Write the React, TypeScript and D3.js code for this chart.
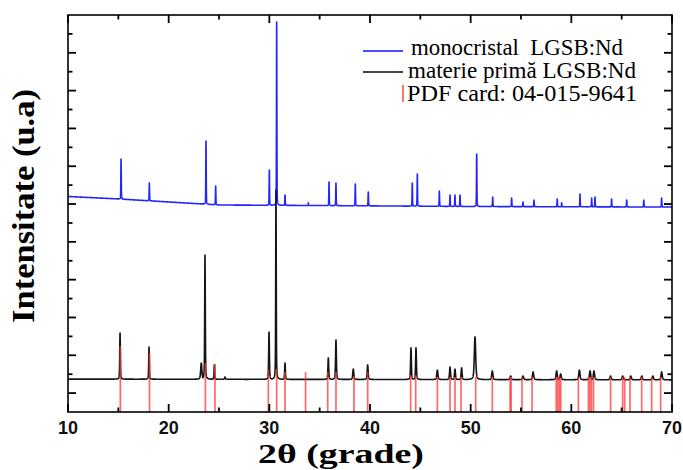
import React from "react";
import * as d3 from "d3";

// ---- axis ticks ----
const xTickLabels = [10, 20, 30, 40, 50, 60, 70];
const xMinorTicks = [15, 25, 35, 45, 55, 65];
const yMajorTicks = [0, 2, 4, 6, 8, 10, 12, 14, 16, 18];
const yMinorTicks = [1, 3, 5, 7, 9, 11, 13, 15, 17, 19];

// ---- monocristal LGSB:Nd (blue) ----
const blueBaseX = [10, 15, 20, 25, 35, 50, 70];
const blueBaseY = [10.4, 10.27, 10.11, 9.95, 9.92, 9.87, 9.84];
const bluePeakX = [15.27, 18.08, 23.71, 24.67, 30.0, 30.73, 31.56, 33.87, 35.93, 36.62, 38.54, 39.83, 44.2, 44.7, 46.89, 47.95, 48.44, 48.94, 50.6, 52.19, 54.07, 55.2, 56.29, 58.6, 59.04, 60.86, 62.02, 62.35, 64.0, 65.5, 67.2, 68.97];
const bluePeakY = [12.38, 11.11, 13.33, 10.95, 11.8, 19.63, 10.48, 10.06, 11.17, 11.11, 11.06, 10.64, 11.11, 11.59, 10.69, 10.48, 10.48, 10.48, 12.65, 10.37, 10.32, 10.11, 10.21, 10.27, 10.06, 10.53, 10.32, 10.37, 10.27, 10.21, 10.21, 10.32];

// ---- materie primă LGSB:Nd (black) ----
const blackBaseX = [10, 40, 70];
const blackBaseY = [0.74, 0.72, 0.7];
const blackPeakX = [15.17, 18.05, 23.24, 23.61, 24.54, 25.6, 29.97, 30.66, 31.56, 35.86, 36.62, 38.34, 39.77, 44.07, 44.57, 46.69, 47.95, 48.44, 49.1, 50.43, 52.15, 53.97, 55.2, 56.2, 58.54, 58.94, 60.8, 61.86, 62.25, 63.9, 65.1, 65.9, 67.0, 68.1, 68.97];
const blackPeakY = [3.18, 2.44, 1.59, 7.3, 1.49, 0.85, 3.23, 10.74, 1.59, 1.86, 2.81, 1.27, 1.49, 2.39, 2.39, 1.22, 1.38, 1.27, 1.33, 2.97, 1.17, 0.9, 0.9, 1.12, 1.17, 1.01, 1.22, 1.17, 1.17, 0.9, 0.9, 0.9, 0.9, 0.9, 1.12];
const blackPeakFwhm = [0.07, 0.07, 0.14, 0.07, 0.07, 0.1, 0.08, 0.06, 0.08, 0.09, 0.09, 0.12, 0.11, 0.09, 0.09, 0.13, 0.11, 0.11, 0.11, 0.16, 0.14, 0.14, 0.14, 0.14, 0.14, 0.14, 0.14, 0.14, 0.14, 0.14, 0.14, 0.14, 0.14, 0.14, 0.14];

// ---- PDF card 04-015-9641 (red sticks) ----
const pdfX = [15.2, 18.1, 23.65, 24.6, 29.9, 30.73, 31.56, 33.6, 35.8, 36.62, 38.41, 39.77, 44.04, 44.54, 46.69, 47.95, 48.44, 49.04, 50.5, 52.15, 53.92, 54.02, 55.1, 56.1, 58.5, 58.65, 58.8, 58.95, 60.7, 61.7, 61.85, 62.0, 62.2, 63.9, 65.1, 65.3, 65.83, 66.99, 67.98, 68.87];
const pdfY = [2.49, 2.12, 1.59, 1.54, 1.27, 1.27, 1.12, 1.12, 1.12, 1.12, 0.9, 1.12, 0.95, 0.95, 0.85, 0.85, 0.85, 0.85, 0.85, 0.85, 0.85, 0.85, 0.85, 0.85, 0.85, 0.85, 0.85, 0.85, 0.85, 0.85, 0.85, 0.85, 0.85, 0.85, 0.85, 0.85, 0.85, 0.85, 0.85, 0.85];

const legendLabels = ["monocristal  LGSB:Nd", "materie primă LGSB:Nd", "PDF card: 04-015-9641"];

const W = 683, H = 470;
const M = { left: 68, right: 672, top: 15, bottom: 412 };

function pv(dx: number, fwhm: number, eta: number) {
  const hw = fwhm / 2;
  const r = (dx / hw) * (dx / hw);
  return eta / (1 + r) + (1 - eta) * Math.exp(-Math.LN2 * r);
}

function buildCurve(baseX: number[], baseY: number[], px: number[], py: number[], fw: number[] | number, eta: number) {
  const base = d3.scaleLinear().domain(baseX).range(baseY);
  const xs = d3.range(10, 70.0001, 0.005).concat(px).sort((a, b) => a - b);
  return xs.map((x) => {
    const b = base(x);
    let y = b;
    for (let i = 0; i < px.length; i++) {
      const f = Array.isArray(fw) ? fw[i] : fw;
      const dx = x - px[i];
      if (Math.abs(dx) > 2) continue;
      const h = py[i] - base(px[i]);
      const v = b + h * pv(dx, f, eta);
      if (v > y) y = v;
    }
    return [x, y] as [number, number];
  });
}

export default function App() {
  const x = d3.scaleLinear().domain([10, 70]).range([M.left, M.right]);
  const y = d3.scaleLinear().domain([-1, 20]).range([M.bottom, M.top]);
  const line = d3.line<[number, number]>().x((d) => x(d[0])).y((d) => y(d[1]));

  const blue = buildCurve(blueBaseX, blueBaseY, bluePeakX, bluePeakY, 0.045, 0.35);
  const black = buildCurve(blackBaseX, blackBaseY, blackPeakX, blackPeakY, blackPeakFwhm, 0.45);

  const serif = "'Liberation Serif', 'Times New Roman', serif";
  const sans = "'Liberation Sans', Arial, sans-serif";

  return (
    <svg width={W} height={H} style={{ position: "absolute", left: 0, top: 0, background: "#fff" }}>
      <rect x={0} y={0} width={W} height={H} fill="#fff" />
      {/* curves */}
      <path d={line(blue) || ""} fill="none" stroke="#2424ff" strokeWidth={1.6} strokeLinejoin="round" />
      <path d={line(black) || ""} fill="none" stroke="#151515" strokeWidth={1.6} strokeLinejoin="round" />
      {/* PDF sticks */}
      {pdfX.map((v, i) => (
        <line key={"p" + i} x1={x(v)} x2={x(v)} y1={y(-1)} y2={y(pdfY[i])} stroke="#ff3535" strokeOpacity={0.75} strokeWidth={1.7} />
      ))}
      {/* frame */}
      <rect x={M.left} y={M.top} width={M.right - M.left} height={M.bottom - M.top} fill="none" stroke="#000" strokeWidth={1.6} />
      {/* x ticks */}
      {xTickLabels.map((v) => (
        <g key={"xt" + v}>
          <line x1={x(v)} x2={x(v)} y1={M.bottom} y2={M.bottom - 8} stroke="#000" strokeWidth={1.8} />
          <line x1={x(v)} x2={x(v)} y1={M.top} y2={M.top + 8} stroke="#000" strokeWidth={1.8} />
          <text x={x(v)} y={434} textAnchor="middle" fontFamily={sans} fontWeight="bold" fontSize={18} fill="#111">{v}</text>
        </g>
      ))}
      {xMinorTicks.map((v) => (
        <g key={"xm" + v}>
          <line x1={x(v)} x2={x(v)} y1={M.bottom} y2={M.bottom - 4.5} stroke="#000" strokeWidth={1.8} />
          <line x1={x(v)} x2={x(v)} y1={M.top} y2={M.top + 4.5} stroke="#000" strokeWidth={1.8} />
        </g>
      ))}
      {/* y ticks */}
      {yMajorTicks.map((v) => (
        <g key={"ym" + v}>
          <line x1={M.left} x2={M.left + 8} y1={y(v)} y2={y(v)} stroke="#000" strokeWidth={1.8} />
          <line x1={M.right} x2={M.right - 8} y1={y(v)} y2={y(v)} stroke="#000" strokeWidth={1.8} />
        </g>
      ))}
      {yMinorTicks.map((v) => (
        <g key={"yn" + v}>
          <line x1={M.left} x2={M.left + 4.5} y1={y(v)} y2={y(v)} stroke="#000" strokeWidth={1.8} />
          <line x1={M.right} x2={M.right - 4.5} y1={y(v)} y2={y(v)} stroke="#000" strokeWidth={1.8} />
        </g>
      ))}
      {/* axis titles */}
      <text x={341} y={463} textAnchor="middle" fontFamily={serif} fontWeight="bold" fontSize={28} textLength={166} lengthAdjust="spacingAndGlyphs" fill="#000">2θ (grade)</text>
      <text transform="translate(34,206) rotate(-90)" textAnchor="middle" fontFamily={serif} fontWeight="bold" fontSize={31} textLength={234} lengthAdjust="spacingAndGlyphs" fill="#000">Intensitate (u.a)</text>
      {/* legend */}
      <line x1={363} x2={403} y1={51} y2={51} stroke="#4a4aff" strokeWidth={2} />
      <text x={411} y={55} fontFamily={serif} fontSize={23} textLength={212} lengthAdjust="spacingAndGlyphs" fill="#000" style={{ whiteSpace: "pre" }}>{legendLabels[0]}</text>
      <line x1={363} x2={403} y1={72} y2={72} stroke="#444" strokeWidth={2} />
      <text x={408} y={78} fontFamily={serif} fontSize={23} textLength={228} lengthAdjust="spacingAndGlyphs" fill="#000">{legendLabels[1]}</text>
      <line x1={403} x2={403} y1={85} y2={102} stroke="#ff3535" strokeOpacity={0.8} strokeWidth={1.7} />
      <text x={407} y={101} fontFamily={serif} fontSize={23} textLength={230} lengthAdjust="spacingAndGlyphs" fill="#000">{legendLabels[2]}</text>
    </svg>
  );
}
